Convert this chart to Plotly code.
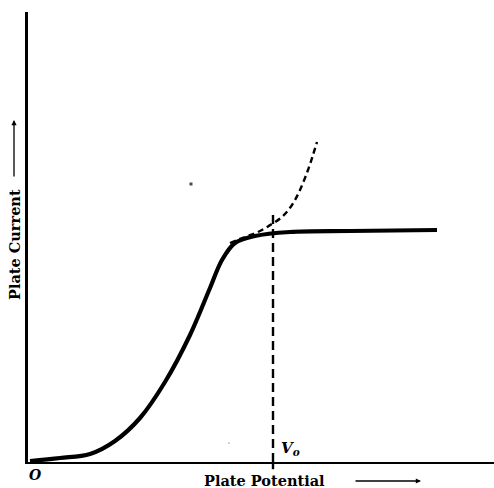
import plotly.graph_objects as go

# Characteristic curve (arbitrary units; x = plate potential, y = plate current)
potential = [2, 32, 62, 87, 112, 137, 162, 182, 194, 207, 227, 262, 322, 409]
current = [1, 4, 8, 21, 44, 80, 127, 174, 202, 219, 226, 230, 231, 232]

# Dashed extension (space-charge law continued)
ext_potential = [202, 217, 230, 244, 255, 264, 272, 280, 285, 289]
ext_current = [219, 225, 230, 238, 246, 257, 272, 292, 307, 320]

# Saturation potential V0
v0 = 245
v0_top = 247

# Scan specks
speck_x = [163, 201]
speck_y = [278, 19]

X_MAX, Y_MAX = 466, 450

fig = go.Figure()
fig.add_trace(go.Scatter(x=potential, y=current, mode="lines",
                         line=dict(color="black", width=4.2, shape="spline", smoothing=1.0),
                         hoverinfo="skip"))
fig.add_trace(go.Scatter(x=ext_potential, y=ext_current, mode="lines",
                         line=dict(color="black", width=2.4, dash="6px,4px", shape="spline"),
                         hoverinfo="skip"))
fig.add_trace(go.Scatter(x=[v0, v0], y=[0, v0_top], mode="lines",
                         line=dict(color="black", width=2.4, dash="9px,5px"),
                         hoverinfo="skip"))
fig.add_trace(go.Scatter(x=speck_x, y=speck_y, mode="markers",
                         marker=dict(color="black", size=[4, 2], symbol="square"),
                         hoverinfo="skip"))
# tick of V0 below axis
fig.add_shape(type="line", xref="x", yref="paper", x0=v0, x1=v0, y0=-0.016, y1=0,
              line=dict(color="black", width=2.4))

serif = "DejaVu Serif"

fig.add_annotation(xref="paper", yref="paper", x=(264 - 28) / X_MAX, y=(462 - 480) / Y_MAX,
                   xanchor="center", yanchor="middle",
                   text="<b>Plate Potential</b>", showarrow=False,
                   font=dict(family=serif, size=14.5, color="black"))
fig.add_annotation(xref="paper", yref="paper", x=(421 - 28) / X_MAX, y=(462 - 481) / Y_MAX,
                   ax=-67, ay=0, text="", showarrow=True, arrowhead=2, arrowsize=0.8,
                   arrowwidth=1.3, arrowcolor="black")
fig.add_annotation(xref="paper", yref="paper", x=(14 - 28) / X_MAX, y=(462 - 245) / Y_MAX,
                   xanchor="center", yanchor="middle",
                   text="<b>Plate Current</b>", showarrow=False, textangle=-90,
                   font=dict(family=serif, size=14.5, color="black"))
fig.add_annotation(xref="paper", yref="paper", x=(14 - 28) / X_MAX, y=(462 - 120) / Y_MAX,
                   ax=0, ay=58, text="", showarrow=True, arrowhead=2, arrowsize=0.8,
                   arrowwidth=1.3, arrowcolor="black")
fig.add_annotation(xref="paper", yref="paper", x=(35 - 28) / X_MAX, y=(462 - 475) / Y_MAX,
                   xanchor="center", yanchor="middle",
                   text="<b><i>O</i></b>", showarrow=False,
                   font=dict(family=serif, size=14, color="black"))
fig.add_annotation(xref="x", yref="y", x=v0 + 17, y=14, xanchor="center", yanchor="middle",
                   text="<b><i>V</i></b><sub><b><i>o</i></b></sub>", showarrow=False,
                   font=dict(family=serif, size=15, color="black"))

fig.update_layout(
    width=494, height=488,
    margin=dict(l=28, r=0, t=12, b=26),
    paper_bgcolor="white", plot_bgcolor="white",
    showlegend=False,
    xaxis=dict(range=[0, X_MAX], showgrid=False, zeroline=False, showticklabels=False,
               ticks="", showline=True, linecolor="black", linewidth=2.2, fixedrange=True),
    yaxis=dict(range=[0, Y_MAX], showgrid=False, zeroline=False, showticklabels=False,
               ticks="", showline=True, linecolor="black", linewidth=3, fixedrange=True),
)

fig.write_html("out.html", config={"displayModeBar": False},
               post_script="document.body.style.margin='0';document.body.style.overflow='hidden';")
